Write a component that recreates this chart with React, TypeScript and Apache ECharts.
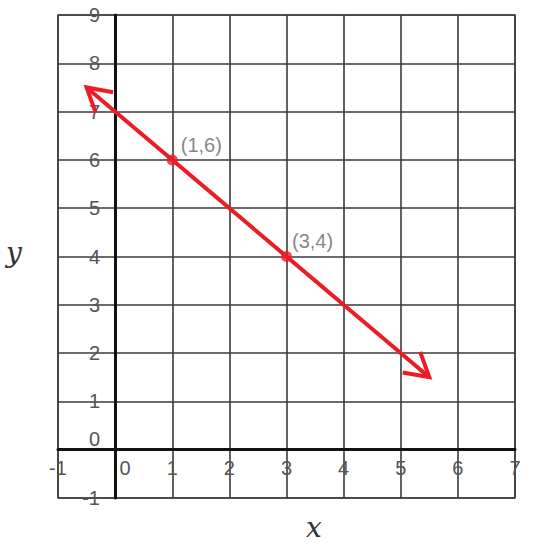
import React, { useEffect, useRef } from "react";
import * as echarts from "echarts";

const xMin = -1;
const xMax = 7;
const yMin = -1;
const yMax = 9;
const lineStart = [-0.5, 7.5];
const lineEnd = [5.5, 1.5];
const pointsX = [1, 3];
const pointsY = [6, 4];
const pointLabels = ["(1,6)", "(3,4)"];

const RED = "#ec1c24";
const FONT = "Liberation Sans, Arial, sans-serif";

export default function App() {
  const ref = useRef<HTMLDivElement>(null);
  useEffect(() => {
    if (!ref.current) return;
    const chart = echarts.init(ref.current, null, { renderer: "svg" });
    const arrowHead = (tip: number[], from: number[], len: number, ang: number) => {
      const dx = from[0] - tip[0];
      const dy = from[1] - tip[1];
      const a = Math.atan2(dy, dx);
      const p1 = [tip[0] + len * Math.cos(a + ang), tip[1] + len * Math.sin(a + ang)];
      const p2 = [tip[0] + len * Math.cos(a - ang), tip[1] + len * Math.sin(a - ang)];
      return {
        type: "polyline",
        shape: { points: [p1, tip, p2] },
        style: { stroke: RED, lineWidth: 4, fill: null, lineJoin: "miter" },
      };
    };
    const option: any = {
      animation: false,
      grid: {
        left: 58,
        right: 37,
        top: 15,
        bottom: 50,
        show: true,
        borderColor: "#555",
        borderWidth: 1.5,
      },
      xAxis: {
        type: "value",
        min: xMin,
        max: xMax,
        interval: 1,
        axisLine: { show: true, onZero: true, lineStyle: { color: "#111", width: 3 } },
        axisTick: { show: false },
        splitLine: { show: true, lineStyle: { color: "#3a3a3a", width: 1.6 } },
        axisLabel: {
          show: true,
          margin: -40,
          color: "#555",
          fontSize: 20,
          fontFamily: FONT,
          showMinLabel: true,
          showMaxLabel: true,
          formatter: (v: number) => (v === 0 ? "{z|0}" : String(v)),
          rich: { z: { padding: [0, 0, 0, 20], color: "#555", fontSize: 20, fontFamily: FONT } },
        },
      },
      yAxis: {
        type: "value",
        min: yMin,
        max: yMax,
        interval: 1,
        axisLine: { show: true, onZero: true, lineStyle: { color: "#111", width: 3 } },
        axisTick: { show: false },
        splitLine: { show: true, lineStyle: { color: "#3a3a3a", width: 1.6 } },
        axisLabel: {
          show: true,
          margin: -42,
          color: "#555",
          fontSize: 20,
          fontFamily: FONT,
          showMinLabel: true,
          showMaxLabel: true,
          formatter: (v: number) => (v === 0 ? "{z|0}" : String(v)),
          rich: { z: { padding: [0, 0, 22, 0], color: "#555", fontSize: 20, fontFamily: FONT } },
        },
      },
      graphic: [
        {
          type: "text",
          left: 6,
          top: 238,
          style: { text: "y", font: "italic 28px 'DejaVu Serif', 'Liberation Serif', serif", fill: "#333" },
        },
        {
          type: "text",
          left: 306,
          top: 513,
          style: { text: "x", font: "italic 28px 'DejaVu Serif', 'Liberation Serif', serif", fill: "#333" },
        },
      ],
      series: [
        {
          type: "custom",
          z: 5,
          encode: { x: [0, 2], y: [1, 3] },
          data: [[lineStart[0], lineStart[1], lineEnd[0], lineEnd[1]]],
          renderItem: (_p: any, api: any) => {
            const a = api.coord([api.value(0), api.value(1)]);
            const b = api.coord([api.value(2), api.value(3)]);
            return {
              type: "group",
              children: [
                {
                  type: "line",
                  shape: { x1: a[0], y1: a[1], x2: b[0], y2: b[1] },
                  style: { stroke: RED, lineWidth: 4 },
                },
                arrowHead(a, b, 27, Math.PI / 6),
                arrowHead(b, a, 27, Math.PI / 6),
              ],
            };
          },
        },
        {
          type: "scatter",
          z: 6,
          symbolSize: 11,
          itemStyle: { color: RED },
          data: pointsX.map((x, i) => ({
            value: [x, pointsY[i]],
            label: {
              show: true,
              formatter: pointLabels[i],
              position: i === 0 ? [14, -9] : [11, -10],
              align: "left",
              verticalAlign: "middle",
              color: "#666",
              fontSize: 20,
              fontFamily: FONT,
            },
          })),
        },
      ],
    };
    chart.setOption(option);
    return () => chart.dispose();
  }, []);
  return (
    <div
      ref={ref}
      style={{ position: "fixed", left: 0, top: 0, width: 552, height: 548, background: "#fff" }}
    />
  );
}
